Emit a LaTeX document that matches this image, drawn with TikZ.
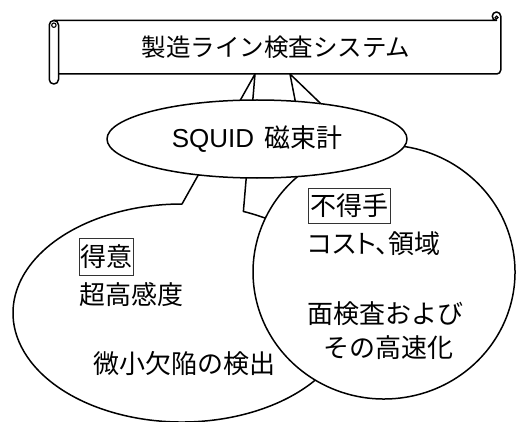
\documentclass[tikz,border=0pt]{standalone}
\usepackage{fontspec}
\usetikzlibrary{shapes.geometric}
\newfontfamily\jp{Noto Sans CJK JP}
\newfontfamily\jpp[RawFeature=+palt]{Noto Sans CJK JP}
\newfontfamily\lat{Liberation Sans}
\tikzset{
  shapeline/.style={draw=black, fill=white, line width=1.5pt, line join=round},
  bodytxt/.style={inner sep=0pt, text=black, font=\jp\fontsize{26pt}{30pt}\selectfont},
  tagbox/.style={bodytxt, draw=black!80, line width=0.8pt},
}
\begin{document}
\begin{tikzpicture}[x=1pt, y=-1pt]
\useasboundingbox (0,0) rectangle (516,422);
% tips of the callouts
\coordinate (tipL) at (255,74);
\coordinate (tipR) at (290,74);
% left callout
\path[shapeline] (182,313) ++(-68.7:169 and 109)
  arc[start angle=-68.7, end angle=270, x radius=169, y radius=109] -- (tipL) -- cycle;
% right callout
\path[shapeline] (384,272) ++(-98.3:131 and 127)
  arc[start angle=-98.3, end angle=234.7, x radius=131, y radius=127] -- (tipR) -- cycle;
% scroll banner
\path[shapeline] (54,20.5) -- (496.5,20.5)
  arc[start angle=90, end angle=360, radius=4.25] -- (500.75,70)
  arc[start angle=0, end angle=90, radius=4] -- (54,74) -- cycle;
\draw[line width=1.1pt] (496.6,17.6) circle[radius=1.5];
\path[shapeline, rounded corners=4.5pt] (49.25,20.5) rectangle (58.5,84);
\draw[line width=1.1pt] (53.9,25.2) circle[radius=2.2];
\node[inner sep=0pt, font=\jp\fontsize{24.5pt}{28pt}\selectfont] (title) at (276,47) {製造ライン検査システム};
% SQUID ellipse
\node[ellipse, shapeline, minimum width=300, minimum height=78, inner sep=0pt,
      font=\fontsize{26pt}{30pt}\selectfont] (squid) at (257,139)
  {{\lat SQUID}\hspace{10pt}{\jp 磁束計}};
% left texts
\node[tagbox, minimum width=54, minimum height=37] (good) at (106,256.5) {得意};
\node[bodytxt, anchor=west] (good1) at (79,294.5) {超高感度};
\node[bodytxt] (good2) at (184,364) {微小欠陥の検出};
% right texts
\node[tagbox, minimum width=82, minimum height=35] (bad) at (349,205.5) {不得手};
\node[bodytxt, anchor=west, font=\jpp\fontsize{26pt}{30pt}\selectfont] (bad1) at (308,244) {コスト、領域};
\node[bodytxt] (bad2) at (385,314) {面検査および};
\node[bodytxt] (bad3) at (388,348) {その高速化};
\end{tikzpicture}
\end{document}
